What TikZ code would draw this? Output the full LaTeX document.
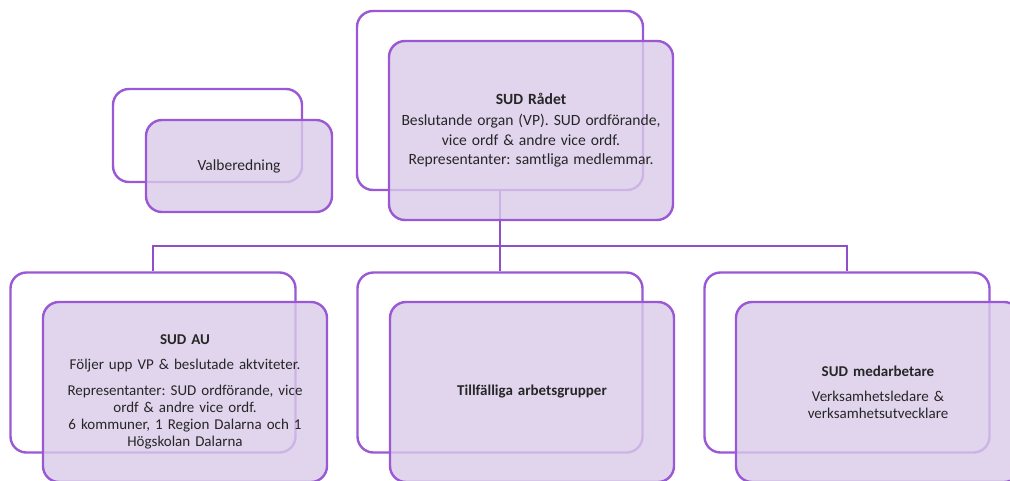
\documentclass[tikz,border=0pt]{standalone}
\usepackage{fontspec}
\setmainfont{Carlito}
\frenchspacing
\definecolor{stroke}{HTML}{9A58D4}
\definecolor{conn}{HTML}{8E4FC8}
\definecolor{frontfill}{HTML}{DACBEA}
\tikzset{
  backbox/.style={draw=stroke, line width=2.4pt, rounded corners=16pt, fill=white, inner sep=0pt},
  frontbox/.style={draw=stroke, line width=2.4pt, rounded corners=16pt, fill=frontfill, fill opacity=0.8, text opacity=1, inner sep=0pt, align=center, text width=278pt, font=\fontsize{15}{17}\selectfont\frenchspacing, text=black!85},
  connector/.style={draw=conn, line width=2.4pt},
}
\begin{document}
\begin{tikzpicture}[x=1pt, y=-1pt]
\useasboundingbox (0,0) rectangle (1010,480);
\clip (0,0) rectangle (1010,480);
% back boxes
\node[backbox, minimum width=286pt, minimum height=179pt] (topback) at (500,100.5) {};
\node[backbox, minimum width=189pt, minimum height=93pt] (valback) at (207.5,135.5) {};
\node[backbox, minimum width=285pt, minimum height=180pt] (leftback) at (153,362.5) {};
\node[backbox, minimum width=285pt, minimum height=180pt] (midback) at (500,362.5) {};
\node[backbox, minimum width=285pt, minimum height=180pt] (rightback) at (847,362.5) {};
% connectors
\coordinate (bus) at (500,246);
\draw[connector] (topback.south) -- (midback.north);
\draw[connector, line join=miter] (leftback.north) -- (leftback.north |- bus) -- (rightback.north |- bus) -- (rightback.north);
% front boxes
\node[frontbox, minimum width=284pt, minimum height=179pt] (topfront) at (531,130.5)
  {\fontsize{15.6}{20}\selectfont\textbf{SUD Rådet}\\[1pt]
   Beslutande organ (VP). SUD ordförande,\\ vice ordf \& andre vice ordf.\\[2pt]
   Representanter: samtliga medlemmar.};
\node[frontbox, minimum width=186pt, minimum height=92pt, text width=180pt, font=\fontsize{15.5}{17}\selectfont] (valfront) at (239,166) {Valberedning};
\node[frontbox, minimum width=284pt, minimum height=180pt] (leftfront) at (185,392)
  {\textbf{SUD AU}\\[8pt]
   Följer upp VP \& beslutade aktviteter.\\[9pt]
   Representanter: SUD ordförande, vice\\ ordf \& andre vice ordf.\\ 6 kommuner, 1 Region Dalarna och 1\\ Högskolan Dalarna};
\node[frontbox, minimum width=284pt, minimum height=180pt] (midfront) at (532,392)
  {\textbf{Tillfälliga arbetsgrupper}};
\node[frontbox, minimum width=284pt, minimum height=180pt] (rightfront) at (878,392)
  {\textbf{SUD medarbetare}\\[8pt]
   Verksamhetsledare \&\\ verksamhetsutvecklare};
\end{tikzpicture}
\end{document}
